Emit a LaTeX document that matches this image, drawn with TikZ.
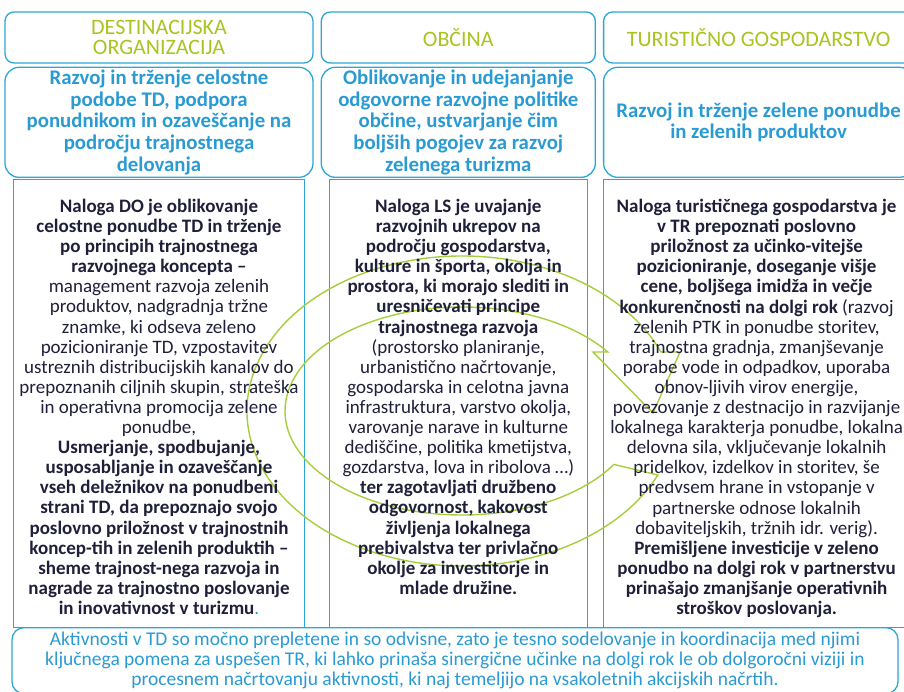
\documentclass[tikz,border=0pt]{standalone}
\usepackage{fontspec}
\setmainfont{Carlito}
\usetikzlibrary{positioning}

\definecolor{frameblue}{HTML}{2BA6D6}
\definecolor{headgreen}{HTML}{A9C420}
\definecolor{subblue}{HTML}{2A9AD3}
\definecolor{bodyink}{HTML}{1F1F3A}
\definecolor{ringgreen}{HTML}{A6CE3C}

\begin{document}
\begin{tikzpicture}[x=1pt, y=-1pt,
    node distance=3pt,
    headbox/.style={rectangle, draw=frameblue, line width=1.3pt, rounded corners=9pt, minimum height=51pt, inner sep=0pt, align=center, text=headgreen, font=\fontsize{22}{20}\selectfont},
    rolebox/.style={rectangle, draw=frameblue, line width=1.3pt, rounded corners=14pt, minimum height=110pt, inner sep=0pt, align=center, text=subblue, font=\fontsize{20.8}{21.7}\selectfont\bfseries},
    taskbox/.style={rectangle, draw=frameblue, line width=1.3pt, minimum height=448pt, inner sep=0pt},
    tasktext/.style={inner sep=0pt, align=center, text=bodyink, font=\fontsize{19}{20.1}\selectfont},
    cyclearrow/.style={draw=ringgreen, line width=1.4pt, line join=miter}
  ]
  \useasboundingbox (0,0) rectangle (904,691);
  \clip (0,0) rectangle (904,691);

  % headers
  \node[headbox, minimum width=308pt] (hDO) at (159,37.5) {DESTINACIJSKA\\ORGANIZACIJA};
  \node[headbox, minimum width=274pt, right=7pt of hDO] (hOB) {OBČINA};
  \node[headbox, minimum width=310pt, right=7pt of hOB] (hTG) {TURISTIČNO GOSPODARSTVO};

  % roles
  \node[rolebox, minimum width=308pt, below=of hDO] (rDO) {Razvoj in trženje celostne\\podobe TD, podpora\\ponudnikom in ozaveščanje na\\področju trajnostnega\\delovanja};
  \node[rolebox, minimum width=274pt, below=of hOB] (rOB) {Oblikovanje in udejanjanje\\odgovorne razvojne politike\\občine, ustvarjanje čim\\boljših pogojev za razvoj\\zelenega turizma};
  \node[rolebox, minimum width=310pt, below=of hTG] (rTG) {Razvoj in trženje zelene ponudbe\\in zelenih produktov};

  % task frames
  \node[taskbox, minimum width=291pt, below=1pt of rDO] (cDO) {};
  \node[taskbox, minimum width=258pt, below=1pt of rOB] (cOB) {};
  \node[taskbox, minimum width=306pt, below=1pt of rTG.south west, anchor=north west] (cTG) {};

  % cycle arrow
  \draw[cyclearrow, shift={(462,411)}] (24.4:215 and 155) arc[start angle=24.4, end angle=337.6, x radius=215, y radius=155]
    -- (218,-59) -- (191,2) -- (131,-59)
    -- (325.4:177 and 104) arc[start angle=325.4, end angle=30.9, x radius=177, y radius=104] -- cycle;

  % task texts
  \node[tasktext, below=20pt of cDO.north] (tDO) {\textbf{Naloga DO je oblikovanje}\\
    \textbf{celostne ponudbe TD in trženje}\\
    \textbf{po principih trajnostnega}\\
    \textbf{razvojnega koncepta –}\\
    management razvoja zelenih\\
    produktov, nadgradnja tržne\\
    znamke, ki odseva zeleno\\
    pozicioniranje TD, vzpostavitev\\
    ustreznih distribucijskih kanalov do\\
    prepoznanih ciljnih skupin, strateška\\
    in operativna promocija zelene\\
    ponudbe,\\
    \textbf{Usmerjanje, spodbujanje,}\\
    \textbf{usposabljanje in ozaveščanje}\\
    \textbf{vseh deležnikov na ponudbeni}\\
    \textbf{strani TD, da prepoznajo svojo}\\
    \textbf{poslovno priložnost v trajnostnih}\\
    \textbf{koncep-tih in zelenih produktih –}\\
    \textbf{sheme trajnost-nega razvoja in}\\
    \textbf{nagrade za trajnostno poslovanje}\\
    \textbf{in inovativnost v turizmu}\textcolor{subblue}{.}};
  \node[tasktext, below=20pt of cOB.north] (tOB) {\textbf{Naloga LS je uvajanje}\\
    \textbf{razvojnih ukrepov na}\\
    \textbf{področju gospodarstva,}\\
    \textbf{kulture in športa, okolja in}\\
    \textbf{prostora, ki morajo slediti in}\\
    \textbf{uresničevati principe}\\
    \textbf{trajnostnega razvoja}\\
    (prostorsko planiranje,\\
    urbanistično načrtovanje,\\
    gospodarska in celotna javna\\
    infrastruktura, varstvo okolja,\\
    varovanje narave in kulturne\\
    dediščine, politika kmetijstva,\\
    gozdarstva, lova in ribolova …)\\
    \textbf{ter zagotavljati družbeno}\\
    \textbf{odgovornost, kakovost}\\
    \textbf{življenja lokalnega}\\
    \textbf{prebivalstva ter privlačno}\\
    \textbf{okolje za investitorje in}\\
    \textbf{mlade družine.}};
  \node[tasktext, below=20pt of cTG.north] (tTG) {\textbf{Naloga turističnega gospodarstva je}\\
    \textbf{v TR prepoznati poslovno}\\
    \textbf{priložnost za učinko-vitejše}\\
    \textbf{pozicioniranje, doseganje višje}\\
    \textbf{cene, boljšega imidža in večje}\\
    \textbf{konkurenčnosti na dolgi rok} (razvoj\\
    zelenih PTK in ponudbe storitev,\\
    trajnostna gradnja, zmanjševanje\\
    porabe vode in odpadkov, uporaba\\
    obnov-ljivih virov energije,\\
    povezovanje z destnacijo in razvijanje\\
    lokalnega karakterja ponudbe, lokalna\\
    delovna sila, vključevanje lokalnih\\
    pridelkov, izdelkov in storitev, še\\
    predvsem hrane in vstopanje v\\
    partnerske odnose lokalnih\\
    dobaviteljskih, tržnih idr. verig).\\
    \textbf{Premišljene investicije v zeleno}\\
    \textbf{ponudbo na dolgi rok v partnerstvu}\\
    \textbf{prinašajo zmanjšanje operativnih}\\
    \textbf{stroškov poslovanja.}};

  % joint activities
  \node[rolebox, minimum width=886pt, minimum height=66pt, rounded corners=12pt, font=\fontsize{19.5}{20}\selectfont, anchor=north] (bTD) at (455,627)
    {Aktivnosti v TD so močno prepletene in so odvisne, zato je tesno sodelovanje in koordinacija med njimi\\
     ključnega pomena za uspešen TR, ki lahko prinaša sinergične učinke na dolgi rok le ob dolgoročni viziji in\\
     procesnem načrtovanju aktivnosti, ki naj temeljijo na vsakoletnih akcijskih načrtih.};
\end{tikzpicture}
\end{document}
